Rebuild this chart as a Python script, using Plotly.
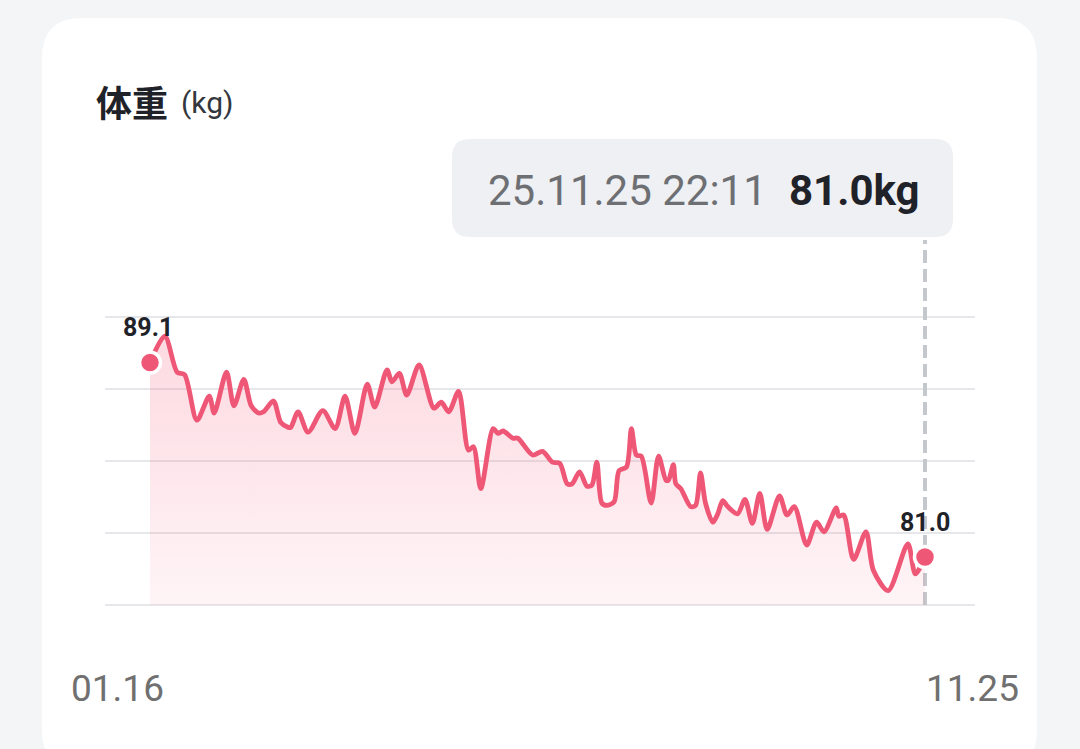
import plotly.graph_objects as go
import pandas as pd

# ---- data ----
dates = [
    "2025-01-16", "2025-01-22", "2025-01-27", "2025-01-30", "2025-02-04", "2025-02-09",
    "2025-02-11", "2025-02-16", "2025-02-19", "2025-02-23", "2025-02-26", "2025-03-01",
    "2025-03-03", "2025-03-07", "2025-03-10", "2025-03-13", "2025-03-14", "2025-03-17",
    "2025-03-21", "2025-03-27", "2025-04-01", "2025-04-05", "2025-04-09", "2025-04-14",
    "2025-04-17", "2025-04-22", "2025-04-24", "2025-04-27", "2025-04-30", "2025-05-05",
    "2025-05-11", "2025-05-14", "2025-05-17", "2025-05-21", "2025-05-25", "2025-05-27",
    "2025-05-30", "2025-06-04", "2025-06-06", "2025-06-08", "2025-06-12", "2025-06-14",
    "2025-06-20", "2025-06-24", "2025-06-28", "2025-07-01", "2025-07-04", "2025-07-06",
    "2025-07-09", "2025-07-12", "2025-07-14", "2025-07-16", "2025-07-18", "2025-07-20",
    "2025-07-23", "2025-07-25", "2025-07-28", "2025-07-30", "2025-08-01", "2025-08-03",
    "2025-08-07", "2025-08-10", "2025-08-13", "2025-08-14", "2025-08-16", "2025-08-17",
    "2025-08-19", "2025-08-23", "2025-08-25", "2025-08-27", "2025-08-29", "2025-09-01",
    "2025-09-03", "2025-09-05", "2025-09-07", "2025-09-11", "2025-09-14", "2025-09-17",
    "2025-09-20", "2025-09-23", "2025-09-28", "2025-10-01", "2025-10-04", "2025-10-09",
    "2025-10-13", "2025-10-16", "2025-10-21", "2025-10-22", "2025-10-24", "2025-10-28",
    "2025-11-02", "2025-11-05", "2025-11-11", "2025-11-19", "2025-11-22", "2025-11-25 22:11",
]
weights = [
    89.1, 90.2, 88.7, 88.6, 86.7, 87.7,
    87.0, 88.7, 87.3, 88.4, 87.3, 87.0,
    87.05, 87.5, 86.6, 86.4, 86.4, 87.05,
    86.2, 87.1, 86.35, 87.7, 86.15, 88.2,
    87.25, 88.8, 88.3, 88.65, 87.75, 89.0,
    87.2, 87.45, 87.05, 87.9, 85.45, 85.6,
    83.85, 86.35, 86.15, 86.25, 85.95, 85.95,
    85.25, 85.4, 84.95, 84.9, 84.05, 84.05,
    84.55, 83.95, 84.0, 84.95, 83.25, 83.15,
    83.3, 84.6, 84.75, 86.35, 85.25, 85.2,
    83.25, 85.2, 84.2, 84.2, 84.85, 84.05,
    83.85, 83.1, 83.15, 84.5, 83.25, 82.45,
    82.8, 83.35, 83.1, 82.8, 83.4, 82.4,
    83.65, 82.15, 83.55, 82.75, 83.1, 81.5,
    82.45, 82.05, 83.05, 82.7, 82.75, 80.9,
    82.05, 80.45, 79.6, 81.55, 80.3, 81.0,
]
grid_values = [79, 82, 85, 88, 91]
title_text = "体重"
unit_text = "(kg)"

# ---- styles / layout ----
W, H = 1080, 749
PL, PR, PT, PB = 105, 975, 240, 620   # plot area in pixels
LINE = "#ef5777"
TXT = "#1f2329"

ts = pd.to_datetime(dates, format="mixed")
t0, t1 = ts[0], ts[-1]
ms_per_px = (t1 - t0) / 775
x_range = [t0 - 45 * ms_per_px, t1 + 50 * ms_per_px]
y_per_px = 1 / 24
y_range = [79 - (PB - 605) * y_per_px, 79 + (605 - PT) * y_per_px]


def px2x(px):
    return (px - PL) / (PR - PL)


def px2y(py):
    return (PB - py) / (PB - PT)


def rrect(x0, y0, x1, y1, r):
    def p(x, y):
        return f"{px2x(x):.5f},{px2y(y):.5f}"
    return (f"M {p(x0 + r, y0)} L {p(x1 - r, y0)} Q {p(x1, y0)} {p(x1, y0 + r)} "
            f"L {p(x1, y1 - r)} Q {p(x1, y1)} {p(x1 - r, y1)} "
            f"L {p(x0 + r, y1)} Q {p(x0, y1)} {p(x0, y1 - r)} "
            f"L {p(x0, y0 + r)} Q {p(x0, y0)} {p(x0 + r, y0)} Z")


fig = go.Figure()

# baseline for the area fill
fig.add_trace(go.Scatter(
    x=ts, y=[grid_values[0]] * len(ts), mode="lines",
    line=dict(width=0, color="rgba(0,0,0,0)"), hoverinfo="skip", showlegend=False,
))
# weight line with gradient fill
fig.add_trace(go.Scatter(
    x=ts, y=weights, mode="lines",
    line=dict(color=LINE, width=4.8, shape="spline", smoothing=0.8),
    fill="tonexty",
    fillgradient=dict(
        type="vertical",
        colorscale=[[0, "rgba(245,100,130,0.07)"], [1, "rgba(245,100,130,0.24)"]],
        start=grid_values[0], stop=max(weights),
    ),
    hoverinfo="skip", showlegend=False,
))
# first / last markers
fig.add_trace(go.Scatter(
    x=[ts[0], ts[-1]], y=[weights[0], weights[-1]], mode="markers",
    marker=dict(size=21, color=LINE, line=dict(color="white", width=3.5)),
    hoverinfo="skip", showlegend=False,
))

shapes = [
    dict(type="path", xref="paper", yref="paper", layer="below",
         path=rrect(42, 18, 1037, 770, 40), fillcolor="white", line=dict(width=0)),
    dict(type="path", xref="paper", yref="paper", layer="below",
         path=rrect(452, 139, 953, 237, 18), fillcolor="#eef0f3", line=dict(width=0)),
    dict(type="line", xref="x", yref="y", layer="between",
         x0=ts[-1], x1=ts[-1], y0=grid_values[0], y1=y_range[1],
         line=dict(color="#c4c8cd", width=4, dash="13px,6px")),
]

annotations = [
    dict(text=f"<b>{title_text}</b>", x=px2x(94), y=px2y(101), xref="paper", yref="paper",
         xanchor="left", yanchor="middle", showarrow=False,
         font=dict(family="Noto Sans CJK SC", size=36, color=TXT)),
    dict(text=unit_text, x=px2x(179), y=px2y(102), xref="paper", yref="paper",
         xanchor="left", yanchor="middle", showarrow=False,
         font=dict(family="Roboto", size=30, color="#33373d")),
    dict(text=t1.strftime("%d.%m.%y %H:%M"), x=px2x(769), y=px2y(190), xref="paper", yref="paper",
         xanchor="right", yanchor="middle", showarrow=False,
         font=dict(family="Roboto", size=42, color="#6d6f73")),
    dict(text=f"<b>{weights[-1]:.1f}kg</b>", x=px2x(787), y=px2y(190), xref="paper", yref="paper",
         xanchor="left", yanchor="middle", showarrow=False,
         font=dict(family="Roboto", size=42, color=TXT)),
    dict(text=t0.strftime("%m.%d"), x=px2x(69), y=px2y(688), xref="paper", yref="paper",
         xanchor="left", yanchor="middle", showarrow=False,
         font=dict(family="Roboto", size=37, color="#707070")),
    dict(text=t1.strftime("%m.%d"), x=px2x(1021), y=px2y(688), xref="paper", yref="paper",
         xanchor="right", yanchor="middle", showarrow=False,
         font=dict(family="Roboto", size=37, color="#707070")),
    dict(text=f"<b>{weights[0]:.1f}</b>", x=ts[0], y=weights[0], xref="x", yref="y",
         xshift=-2, yshift=35, showarrow=False,
         font=dict(family="Roboto", size=25, color=TXT)),
    dict(text=f"<b>{weights[-1]:.1f}</b>", x=ts[-1], y=weights[-1], xref="x", yref="y",
         xshift=0, yshift=35, showarrow=False,
         font=dict(family="Roboto", size=25, color=TXT)),
]

fig.update_layout(
    width=W, height=H, autosize=False,
    margin=dict(l=PL, r=W - PR, t=PT, b=H - PB, pad=0),
    paper_bgcolor="#f4f5f7", plot_bgcolor="rgba(0,0,0,0)",
    shapes=shapes, annotations=annotations, showlegend=False,
    xaxis=dict(range=x_range, showgrid=False, zeroline=False, showticklabels=False,
               showline=False, fixedrange=True),
    yaxis=dict(range=y_range, tickvals=grid_values, showticklabels=False, showgrid=True,
               gridcolor="#e6e7ea", gridwidth=2, zeroline=False, showline=False, fixedrange=True),
    hovermode=False,
)

fig.write_html(
    "out.html",
    config=dict(displayModeBar=False),
    post_script="document.body.style.margin='0';document.body.style.background='#f4f5f7';",
)
